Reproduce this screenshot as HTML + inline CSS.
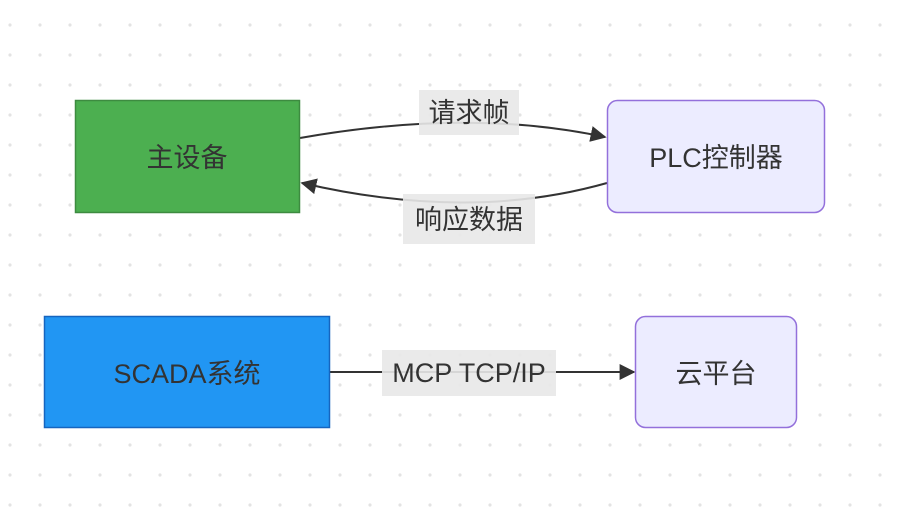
<!DOCTYPE html>
<html><head><meta charset="utf-8"><style>
html,body{margin:0;padding:0;background:#fff;}
svg{display:block;}
text{font-family:"Liberation Sans","Noto Sans CJK SC",sans-serif;fill:#333;}
</style></head><body>
<svg width="902" height="528" viewBox="0 0 902 528" xmlns="http://www.w3.org/2000/svg">
<defs>
<pattern id="d" x="0" y="0" width="30" height="30" patternUnits="userSpaceOnUse">
<circle cx="10" cy="25" r="1.6" fill="#e3e3e3"/>
</pattern>
<marker id="a" viewBox="0 0 10 10" refX="9" refY="5" markerWidth="8" markerHeight="8" orient="auto-start-reverse" markerUnits="userSpaceOnUse">
<path d="M0,0 L10,5 L0,10 z" fill="#333"/>
</marker>
<marker id="a2" viewBox="0 0 10 10" refX="9" refY="5" markerWidth="16" markerHeight="16" orient="auto" markerUnits="userSpaceOnUse">
<path d="M0,0 L10,5 L0,10 z" fill="#333"/>
</marker>
</defs>
<rect width="902" height="528" fill="url(#d)"/>

<path d="M300,138 Q469,108 605,137" fill="none" stroke="#333" stroke-width="2" marker-end="url(#a2)"/>
<path d="M607,183 Q469,222 302,183" fill="none" stroke="#333" stroke-width="2" marker-end="url(#a2)"/>
<path d="M330,372 L634,372" fill="none" stroke="#333" stroke-width="2" marker-end="url(#a2)"/>

<rect x="75.5" y="100.5" width="224" height="112" fill="#4caf50" stroke="#3d8b40" stroke-width="1.5"/>
<text x="187" y="167" font-size="27" text-anchor="middle">主设备</text>

<rect x="607.5" y="100.5" width="217" height="112" rx="10" fill="#ececff" stroke="#9370db" stroke-width="1.5"/>
<text x="716" y="167" font-size="27" text-anchor="middle">PLC控制器</text>

<rect x="44.5" y="316.5" width="285" height="111" fill="#2196f3" stroke="#1565c0" stroke-width="1.5"/>
<text x="187" y="383" font-size="27" text-anchor="middle">SCADA系统</text>

<rect x="635.5" y="316.5" width="161" height="111" rx="10" fill="#ececff" stroke="#9370db" stroke-width="1.5"/>
<text x="716" y="383" font-size="27" text-anchor="middle">云平台</text>

<rect x="419" y="90" width="100" height="45" fill="#e8e8e8" opacity="0.9"/>
<text x="469" y="122" font-size="27" text-anchor="middle">请求帧</text>
<rect x="403" y="194" width="132" height="50" fill="#e8e8e8" opacity="0.9"/>
<text x="469" y="229" font-size="27" text-anchor="middle">响应数据</text>
<rect x="382" y="350" width="174" height="46" fill="#e8e8e8" opacity="0.9"/>
<text x="469" y="382" font-size="27" text-anchor="middle">MCP TCP/IP</text>
</svg>
</body></html>
